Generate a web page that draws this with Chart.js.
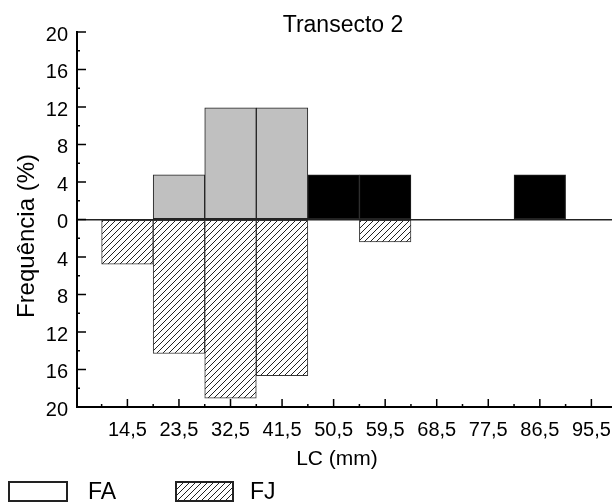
<!DOCTYPE html>
<html>
<head>
<meta charset="utf-8">
<script src="https://cdn.jsdelivr.net/npm/chart.js@4.4.1/dist/chart.umd.min.js"></script>
<style>
  body { margin: 0; background: #fff; }
  canvas { display: block; }
</style>
</head>
<body>
<canvas id="chart" width="612" height="502"></canvas>
<script>
// Transecto 2 - size classes (mm) and frequencies (%)
const xValues = [14.5, 23.5, 32.5, 41.5, 50.5, 59.5, 68.5, 77.5, 86.5, 95.5];
const tickLabels = ['14,5', '23,5', '32,5', '41,5', '50,5', '59,5', '68,5', '77,5', '86,5', '95,5'];
const faValues = [0, 4.76, 11.9, 11.9, 4.76, 4.76, 0, 0, 4.76, 0];
const fjValues = [4.76, 14.29, 19.05, 16.67, 0, 2.38, 0, 0, 0, 0];
const seriesNames = ['FA', 'FJ'];

const FONT = "'Liberation Sans', Arial, sans-serif";

// FA bars: grey up to 41,5 mm, black after
const faColors = xValues.map(x => x <= 41.5 ? '#c0c0c0' : '#000000');

// diagonal hatch for FJ
function hatch() {
    const c = document.createElement('canvas');
    c.width = 6;
    c.height = 6;
    const g = c.getContext('2d');
    g.fillStyle = '#fff';
    g.fillRect(0, 0, 6, 6);
    g.strokeStyle = '#222';
    g.lineWidth = 1;
    g.beginPath();
    g.moveTo(0, 6); g.lineTo(6, 0);
    g.moveTo(-1, 1); g.lineTo(1, -1);
    g.moveTo(5, 7); g.lineTo(7, 5);
    g.stroke();
    return g.createPattern(c, 'repeat');
}
const hatchFill = hatch();

// inward tick marks, titles and legend
const extras = {
    id: 'extras',
    afterDraw(chart) {
        const ctx = chart.ctx;
        const x = chart.scales.x;
        const y = chart.scales.y;
        const area = chart.chartArea;
        ctx.save();
        ctx.strokeStyle = '#000';
        ctx.lineWidth = 1.5;
        ctx.beginPath();
        for (let v = -20; v <= 20; v += 2) {
            const py = y.getPixelForValue(v);
            const len = v % 4 === 0 ? 9 : 3;
            ctx.moveTo(area.left, py);
            ctx.lineTo(area.left + len, py);
        }
        xValues.forEach(v => {
            const px = x.getPixelForValue(v);
            ctx.moveTo(px, area.bottom);
            ctx.lineTo(px, area.bottom - 8);
            const pe = x.getPixelForValue(v - 4.5);
            ctx.moveTo(pe, area.bottom);
            ctx.lineTo(pe, area.bottom - 3);
        });
        ctx.stroke();

        ctx.fillStyle = '#000';
        ctx.textAlign = 'center';
        ctx.textBaseline = 'middle';
        ctx.font = '23px ' + FONT;
        ctx.fillText('Transecto 2', 343, 26);
        ctx.font = '21px ' + FONT;
        ctx.fillText('LC (mm)', 337, 459);

        ctx.save();
        ctx.translate(27, 236);
        ctx.rotate(-Math.PI / 2);
        ctx.font = '24px ' + FONT;
        ctx.fillText('Frequência (%)', 0, 0);
        ctx.restore();

        // legend
        ctx.lineWidth = 2;
        ctx.strokeStyle = '#222';
        ctx.fillStyle = '#fff';
        ctx.fillRect(9, 482, 58, 19);
        ctx.strokeRect(9, 482, 58, 19);
        ctx.fillStyle = hatchFill;
        ctx.fillRect(176, 482, 57, 19);
        ctx.strokeRect(176, 482, 57, 19);
        ctx.fillStyle = '#000';
        ctx.textAlign = 'left';
        ctx.textBaseline = 'alphabetic';
        ctx.font = '23px ' + FONT;
        ctx.fillText(seriesNames[0], 88, 499);
        ctx.fillText(seriesNames[1], 250, 499);
        ctx.restore();
    }
};

const chart = new Chart(document.getElementById('chart'), {
    type: 'bar',
    data: {
        datasets: [{
            label: seriesNames[0],
            data: xValues.map((x, i) => ({ x: x, y: faValues[i] || null })),
            backgroundColor: faColors,
            borderColor: '#222',
            borderWidth: 1,
            borderSkipped: false,
        }, {
            label: seriesNames[1],
            data: xValues.map((x, i) => ({ x: x, y: fjValues[i] ? -fjValues[i] : null })),
            backgroundColor: hatchFill,
            borderColor: '#333',
            borderWidth: 1,
            borderSkipped: false,
        }]
    },
    options: {
        responsive: false,
        animation: false,
        grouped: false,
        categoryPercentage: 1,
        barPercentage: 1,
        layout: { padding: { top: 32, right: 0, left: 0, bottom: 0 } },
        plugins: {
            legend: { display: false },
            tooltip: { enabled: false }
        },
        scales: {
            x: {
                type: 'linear',
                offset: false,
                min: 5.7,
                max: 99.1,
                // transparent tick marks only push the labels down
                grid: { display: true, drawOnChartArea: false, drawTicks: true, tickLength: 11, color: 'transparent' },
                border: { display: true, color: '#000', width: 2 },
                afterBuildTicks: s => { s.ticks = xValues.map(v => ({ value: v })); },
                afterFit: s => { s.height = 95; },
                ticks: {
                    autoSkip: false,
                    maxRotation: 0,
                    padding: 0,
                    color: '#000',
                    font: { family: FONT, size: 20 },
                    callback: v => tickLabels[xValues.indexOf(v)]
                }
            },
            y: {
                min: -20,
                max: 20,
                z: 1,
                grid: {
                    drawTicks: false,
                    color: c => c.tick && c.tick.value === 0 ? '#222' : 'transparent',
                    lineWidth: 1.5
                },
                border: { display: true, color: '#000', width: 2 },
                afterFit: s => { s.width = 77; },
                ticks: {
                    stepSize: 4,
                    padding: 9,
                    labelOffset: 3,
                    color: '#000',
                    font: { family: FONT, size: 20 },
                    callback: v => Math.abs(v)
                }
            }
        }
    },
    plugins: [extras]
});
</script>
</body>
</html>
